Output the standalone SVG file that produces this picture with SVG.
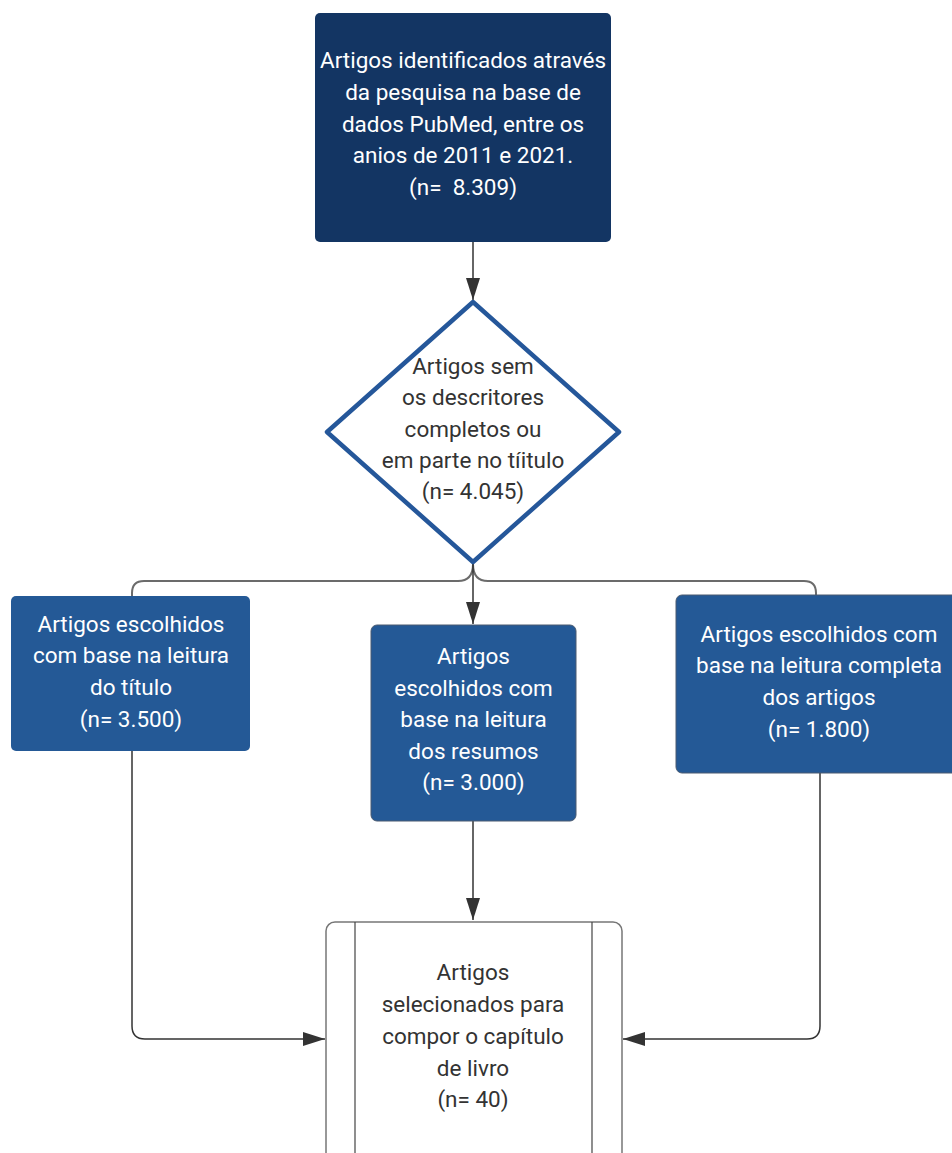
<svg xmlns="http://www.w3.org/2000/svg" width="952" height="1153" viewBox="0 0 952 1153">
<style>
.t{font-family:Roboto,"Liberation Sans",Arial,sans-serif;font-size:22.5px;text-anchor:middle}
.w{fill:#ffffff}
.d{fill:#333333}
.box{fill:#245996;stroke:#4a5a70;stroke-width:1}
.conn{fill:none;stroke:#333333;stroke-width:1.5}
.branch{fill:none;stroke:#6b6b6b;stroke-width:2}
</style>
<defs>
<marker id="ah" markerUnits="userSpaceOnUse" markerWidth="24" markerHeight="14" refX="22" refY="7" orient="auto">
<path d="M0,0 L22,7 L0,14 Z" fill="#333333"/>
</marker>
</defs>
<rect width="952" height="1153" fill="#ffffff"/>
<g id="connectors">
<path class="conn" d="M473,242 V300" marker-end="url(#ah)"/>
<path class="branch" d="M473,564 C473,576 468,581 458,581 H144 Q132,581 132,593 V596"/>
<path class="branch" d="M473,564 C473,576 478,581 488,581 H804 Q816,581 816,593 V596"/>
<path class="conn" d="M473,564 V624" marker-end="url(#ah)"/>
<path class="conn" d="M473,821 V920" marker-end="url(#ah)"/>
<path class="conn" d="M132,751 V1026 Q132,1039 145,1039 H325" marker-end="url(#ah)"/>
<path class="conn" d="M820,772 V1026 Q820,1039 807,1039 H623" marker-end="url(#ah)"/>
</g>
<g id="n1">
<rect x="315" y="13" width="296" height="229" rx="5" fill="#133563"/>
<text class="t w" x="463" y="68">Artigos identificados através</text>
<text class="t w" x="463" y="100">da pesquisa na base de</text>
<text class="t w" x="463" y="132">dados PubMed, entre os</text>
<text class="t w" x="463" y="163">anios de 2011 e 2021.</text>
<text class="t w" x="463" y="195" xml:space="preserve">(n=  8.309)</text>
</g>
<g id="n2">
<path d="M473,302 L619,432 L473,562 L327,432 Z" fill="#ffffff" stroke="#25579a" stroke-width="4.5" stroke-linejoin="round"/>
<text class="t d" x="473" y="374">Artigos sem</text>
<text class="t d" x="473" y="405">os descritores</text>
<text class="t d" x="473" y="437">completos ou</text>
<text class="t d" x="473" y="468">em parte no tíitulo</text>
<text class="t d" x="473" y="499">(n= 4.045)</text>
</g>
<g id="n3">
<rect class="box" x="11" y="596" width="239" height="155" rx="5" style="stroke:none"/>
<text class="t w" x="131" y="632">Artigos escolhidos</text>
<text class="t w" x="131" y="663">com base na leitura</text>
<text class="t w" x="131" y="695">do título</text>
<text class="t w" x="131" y="727">(n= 3.500)</text>
</g>
<g id="n4">
<rect class="box" x="371" y="625" width="205" height="196" rx="6"/>
<text class="t w" x="473.5" y="664">Artigos</text>
<text class="t w" x="473.5" y="696">escolhidos com</text>
<text class="t w" x="473.5" y="727">base na leitura</text>
<text class="t w" x="473.5" y="759">dos resumos</text>
<text class="t w" x="473.5" y="790">(n= 3.000)</text>
</g>
<g id="n5">
<rect class="box" x="676" y="595" width="286" height="178" rx="6"/>
<text class="t w" x="819" y="642">Artigos escolhidos com</text>
<text class="t w" x="819" y="673">base na leitura completa</text>
<text class="t w" x="819" y="705">dos artigos</text>
<text class="t w" x="819" y="737">(n= 1.800)</text>
</g>
<g id="n6">
<rect x="326" y="922" width="296" height="260" rx="9" fill="#ffffff" stroke="#777777" stroke-width="1.5"/>
<line x1="355" y1="922" x2="355" y2="1153" stroke="#444444" stroke-width="1.2"/>
<line x1="592" y1="922" x2="592" y2="1153" stroke="#444444" stroke-width="1.2"/>
<text class="t d" x="473" y="980">Artigos</text>
<text class="t d" x="473" y="1012">selecionados para</text>
<text class="t d" x="473" y="1044">compor o capítulo</text>
<text class="t d" x="473" y="1076">de livro</text>
<text class="t d" x="473" y="1107">(n= 40)</text>
</g>
</svg>
